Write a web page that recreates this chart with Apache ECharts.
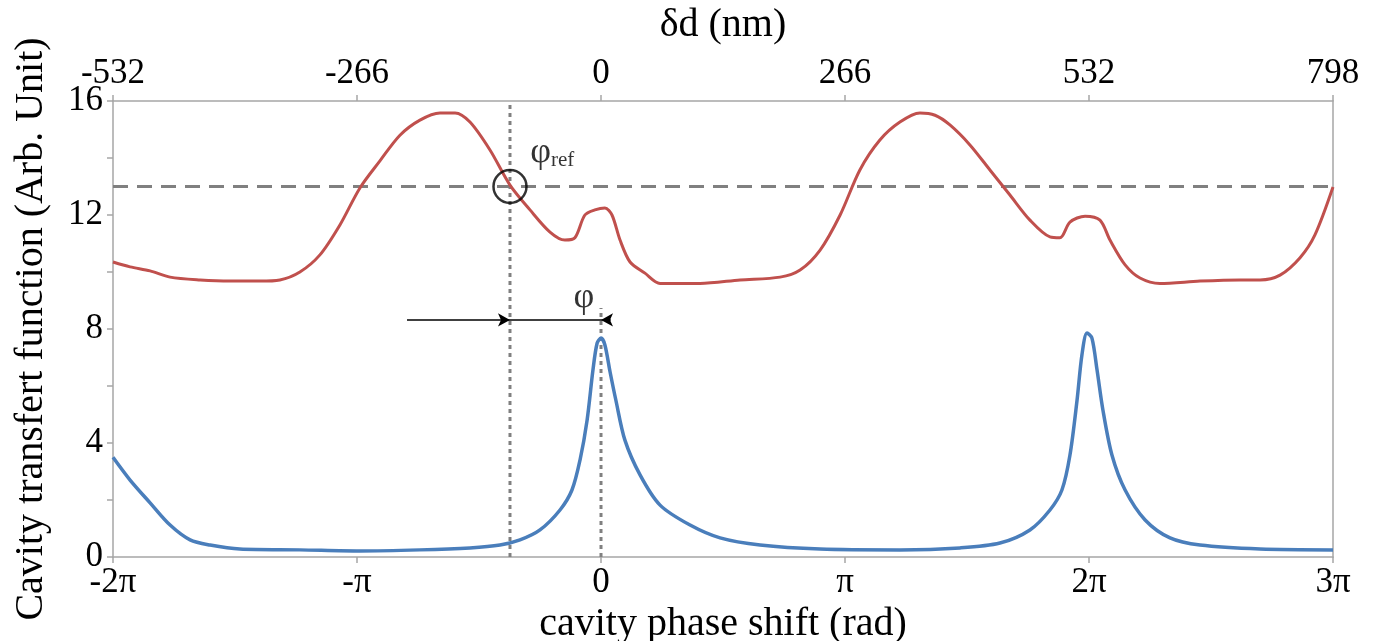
<!DOCTYPE html>
<html>
<head>
<meta charset="utf-8">
<script src="https://cdn.jsdelivr.net/npm/echarts@6/dist/echarts.min.js"></script>
<style>html,body{margin:0;padding:0;background:#fff;}#c{width:1375px;height:641px;}</style>
</head>
<body>
<div id="c"></div>
<script>
// phase in units of pi
const redX = [-2.0,-1.93,-1.848,-1.766,-1.643,-1.52,-1.398,-1.316,-1.234,-1.152,-1.07,-0.988,-0.906,-0.824,-0.742,-0.66,-0.598,-0.537,-0.455,-0.373,-0.291,-0.209,-0.148,-0.107,-0.066,-0.025,0.016,0.045,0.078,0.119,0.18,0.242,0.406,0.57,0.734,0.816,0.898,0.98,1.061,1.143,1.225,1.307,1.369,1.43,1.512,1.594,1.676,1.758,1.84,1.881,1.922,1.984,2.045,2.086,2.148,2.209,2.291,2.455,2.619,2.701,2.783,2.865,2.926,3.0];
const redY = [10.35,10.18,10.04,9.82,9.72,9.68,9.68,9.72,10.0,10.6,11.65,12.95,13.9,14.8,15.33,15.58,15.58,15.26,14.28,13.05,12.18,11.4,11.12,11.2,12.0,12.18,12.25,12.0,11.12,10.35,9.96,9.6,9.6,9.72,9.82,10.07,10.77,12.0,13.58,14.63,15.26,15.58,15.5,15.16,14.46,13.58,12.7,11.82,11.23,11.2,11.75,11.96,11.82,11.12,10.25,9.79,9.6,9.68,9.72,9.72,9.89,10.5,11.3,12.98];
const blueX = [-2.0,-1.93,-1.848,-1.766,-1.684,-1.602,-1.48,-1.234,-0.988,-0.742,-0.537,-0.414,-0.332,-0.25,-0.168,-0.119,-0.086,-0.057,-0.033,-0.016,0,0.016,0.037,0.061,0.098,0.16,0.242,0.365,0.488,0.652,0.898,1.225,1.471,1.635,1.758,1.84,1.889,1.922,1.951,1.971,1.992,2.012,2.033,2.057,2.094,2.148,2.23,2.332,2.455,2.701,3.0];
const blueY = [3.5,2.7,1.9,1.12,0.6,0.42,0.28,0.25,0.21,0.25,0.32,0.42,0.6,0.95,1.65,2.35,3.4,4.8,6.56,7.5,7.68,7.44,6.5,5.5,4.1,2.88,1.82,1.12,0.67,0.42,0.28,0.25,0.32,0.49,0.95,1.65,2.35,3.58,5.5,7.09,7.86,7.68,6.56,5.16,3.58,2.35,1.3,0.67,0.42,0.28,0.25];
const bottomTicks = {'-2':'-2π','-1':'-π','0':'0','1':'π','2':'2π','3':'3π'};
const topTicks = [-532,-266,0,266,532,798];
const refLevel = 13;
const phiRef = -0.373;
const arrowY = 8.32;
const arrowStart = -0.795;
const phiLineTop = 8.74;

const FONT = 'Liberation Serif';
const AX = '#a6a6a6';
const chart = echarts.init(document.getElementById('c'));
const zip = (xs, ys) => xs.map((x, i) => [x, ys[i]]);
chart.setOption({
  animation: false,
  grid: {left: 113, right: 42, top: 101, bottom: 84, outerBoundsMode: 'none', containLabel: false},
  xAxis: [{
    type: 'value', min: -2, max: 3, interval: 1, position: 'bottom',
    name: 'cavity phase shift (rad)', nameLocation: 'middle', nameGap: 42,
    nameTextStyle: {fontFamily: FONT, fontSize: 40, color: '#000'},
    axisLine: {onZero: false, lineStyle: {color: AX, width: 1.5}},
    axisTick: {inside: false, length: 6, lineStyle: {color: AX, width: 1.5}},
    axisLabel: {fontFamily: FONT, fontSize: 35, color: '#000', margin: 8,
      formatter: v => bottomTicks[String(Math.round(v))] || ''},
    splitLine: {show: false}
  }, {
    type: 'value', min: topTicks[0], max: topTicks[topTicks.length-1], interval: 266, position: 'top',
    name: 'δd (nm)', nameLocation: 'middle', nameGap: 56,
    nameTextStyle: {fontFamily: FONT, fontSize: 40, color: '#000'},
    axisLine: {onZero: false, lineStyle: {color: AX, width: 1.5}},
    axisTick: {inside: false, length: 6, lineStyle: {color: AX, width: 1.5}},
    axisLabel: {fontFamily: FONT, fontSize: 35, color: '#000', margin: 10},
    splitLine: {show: false}
  }],
  yAxis: [{
    type: 'value', min: 0, max: 16, interval: 2,
    name: 'Cavity transfert function (Arb. Unit)', nameLocation: 'middle', nameGap: 62,
    nameTextStyle: {fontFamily: FONT, fontSize: 40, color: '#000'},
    axisLine: {show: true, onZero: false, lineStyle: {color: AX, width: 1.5}},
    axisTick: {show: true, inside: false, length: 6, lineStyle: {color: AX, width: 1.5}},
    axisLabel: {fontFamily: FONT, fontSize: 35, color: '#000', margin: 10,
      formatter: v => (v % 4 === 0 ? String(v) : '')},
    splitLine: {show: false}
  }, {
    type: 'value', min: 0, max: 16, position: 'right',
    axisLine: {show: true, onZero: false, lineStyle: {color: AX, width: 1.5}},
    axisTick: {show: false}, axisLabel: {show: false}, splitLine: {show: false}
  }],
  series: [
    {type: 'line', data: [[-2, refLevel], [3, refLevel]], symbol: 'none', z: 1,
     lineStyle: {color: '#808080', width: 3, type: [15, 9]}},
    {type: 'line', data: [[phiRef, 0], [phiRef, 16]], symbol: 'none', z: 1,
     lineStyle: {color: '#808080', width: 3, type: [4, 4]}},
    {type: 'line', data: [[0, 0], [0, phiLineTop]], symbol: 'none', z: 1,
     lineStyle: {color: '#808080', width: 3, type: [4, 4]}},
    {type: 'line', name: 'red', data: zip(redX, redY), symbol: 'none', smooth: 0.3, z: 3,
     lineStyle: {color: '#c0504d', width: 3}},
    {type: 'line', name: 'blue', data: zip(blueX, blueY), symbol: 'none', smooth: 0.3, z: 3,
     lineStyle: {color: '#4a7ebb', width: 3.5}},
    {type: 'line', data: [[phiRef, arrowY], [0, arrowY]], symbol: 'none', z: 4,
     lineStyle: {color: '#000', width: 1.5},
     markLine: {silent: true, symbol: ['none', 'arrow'], symbolSize: [10, 12],
       lineStyle: {color: '#000', width: 1.5, type: 'solid'}, label: {show: false},
       data: [
         [{coord: [arrowStart, arrowY]}, {coord: [phiRef, arrowY]}],
         [{coord: [0.04, arrowY]}, {coord: [0, arrowY]}]
       ]}},
    {type: 'scatter', data: [[phiRef, refLevel]], symbol: 'circle', symbolSize: 33, z: 5,
     itemStyle: {color: 'rgba(0,0,0,0)', borderColor: '#000', borderWidth: 2.5}},
    {type: 'scatter', symbolSize: 0, z: 6, silent: true,
     data: [
       {value: [-0.2, 14.2], label: {formatter: '{a|φ}{b|ref}'}},
       {value: [-0.07, 9.1], label: {formatter: '{a|φ}'}}
     ],
     label: {show: true, position: 'inside', color: '#000',
       rich: {a: {fontFamily: FONT, fontSize: 36, color: '#000'},
              b: {fontFamily: FONT, fontSize: 21, color: '#000', verticalAlign: 'bottom', padding: [16, 0, 0, 0]}}}}
  ]
});
</script>
</body>
</html>
